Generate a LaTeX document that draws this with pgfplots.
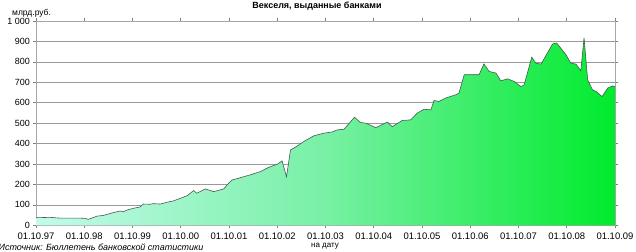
\documentclass[border=0pt]{standalone}
\usepackage{pgfplots}
\usepackage{pgfplotstable}
\pgfplotsset{compat=1.18}
\usepackage{fontspec}
\setmainfont{Liberation Sans}
\definecolor{gl}{RGB}{195,250,235}
\definecolor{gm}{RGB}{120,240,165}
\definecolor{gr}{RGB}{0,235,45}
\definecolor{outl}{RGB}{70,90,80}

\pgfplotstableread{
m v
0 37
3.5 39
6 35
11 35
12.2 34
13 29
15.2 45
16.7 48
19.2 62
20.9 70
21.7 66
22.7 75
24.2 83
25.9 90
26.7 104
28.4 103
29.1 106
30.9 104
32.6 113
34.1 119
35.9 132
37.6 145
39.2 170
40 157
42.1 178
44.2 165
46.7 178
47.9 206
48.8 222
50.8 233
53.3 247
55.8 263
57.9 284
60 299
61.2 315
62.3 238
63.3 369
64.5 382
67 415
69.1 438
71.6 451
73.7 457
74.9 467
76.6 470
79.2 529
80.7 503
82 500
84.5 478
87.4 505
88.6 483
91.1 513
93.2 516
94.8 549
96.5 568
98.2 565
99 611
100.2 606
101.9 623
104.4 639
105.2 647
106.5 737
110.2 737
111.4 790
112.7 753
114.4 745
115.6 707
117.3 717
118.9 704
120.6 679
121.4 687
123.3 823
124.3 794
125.6 789
128.5 888
129.5 892
131.8 835
133 794
134.3 789
135.5 756
136.3 917
137.2 712
138.4 663
139.3 655
140.8 630
142.2 672
143.4 682
144 679
}\bills

\begin{document}
\begin{tikzpicture}[x=1bp,y=1bp]
\begin{axis}[
  at={(0,0)}, anchor=south west,
  scale only axis, width=579bp, height=204.3bp,
  xmin=0, xmax=144, ymin=0, ymax=1000,
  xtick={0,12,...,144},
  xticklabels={01.10.97,01.10.98,01.10.99,01.10.00,01.10.01,01.10.02,01.10.03,01.10.04,01.10.05,01.10.06,01.10.07,01.10.08,01.10.09},
  ytick={0,100,...,1000},
  yticklabels={0,100,200,300,400,500,600,700,800,900,1 000},
  ymajorgrids,
  grid style={draw=gray!80, line width=0.7bp},
  axis line style={draw=gray!70, line width=0.7bp},
  tick align=outside, major tick length=3bp,
  tick style={draw=gray, line width=0.6bp},
  xticklabel style={font=\fontsize{9.5}{10}\selectfont, yshift=-3.5bp, inner sep=0.5bp},
  yticklabel style={font=\fontsize{9}{10}\selectfont, xshift=-2.5bp, inner sep=0.5bp},
]
\addplot[draw=none, left color=gl, right color=gr, middle color=gm] table[x=m,y=v]{\bills} \closedcycle;
\addplot[color=outl, line width=0.6bp, mark=none] table[x=m,y=v]{\bills};
\end{axis}
\node[font=\bfseries\fontsize{9}{10}\selectfont] at (281bp,219.3bp) {Векселя, выданные банками};
\node[font=\fontsize{8.5}{10}\selectfont, anchor=west, inner sep=0pt] at (-24bp,212.3bp) {млрд.руб.};
\node[font=\fontsize{8}{9}\selectfont, inner sep=0pt] at (289bp,-20.5bp) {на дату};
\node[font=\itshape\fontsize{9}{10}\selectfont, anchor=west, inner sep=0pt] at (-37.5bp,-21.8bp) {Источник: Бюллетень банковской статистики};
\pgfresetboundingbox
\path[use as bounding box] (-36bp,-26.7bp) rectangle (600bp,225.3bp);
\end{tikzpicture}
\end{document}
